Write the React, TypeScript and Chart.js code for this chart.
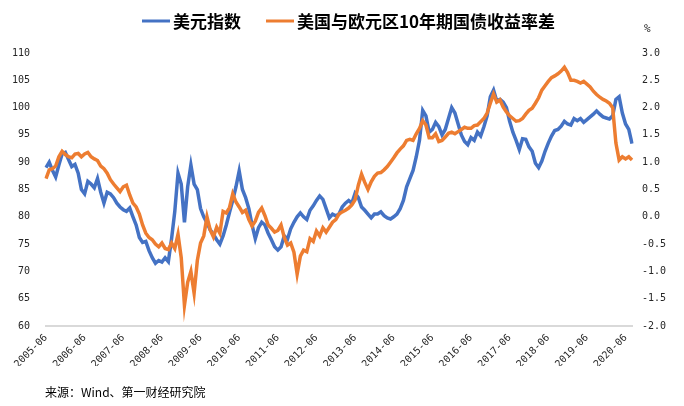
import React, { useEffect, useRef } from "react";
import { Chart, registerables } from "chart.js";

Chart.register(...registerables);

// Monthly categories 2005-06 .. 2020-08
const months: string[] = [];
for (let y = 2005; y <= 2020; y++) {
  for (let mo = 1; mo <= 12; mo++) {
    if ((y === 2005 && mo < 6) || (y === 2020 && mo > 8)) continue;
    months.push(`${y}-${String(mo).padStart(2, "0")}`);
  }
}

const dollarIndex: number[] = [
  89.0, 90.0, 88.5, 87.3, 89.5, 91.5, 91.8, 90.5, 89.2, 89.6,
  88.0, 85.0, 84.2, 86.5, 86.0, 85.3, 87.0, 84.5, 82.5, 84.5,
  84.2, 83.5, 82.5, 81.8, 81.3, 81.0, 81.6, 80.0, 78.5, 76.2,
  75.3, 75.5, 73.8, 72.5, 71.5, 72.0, 71.7, 72.5, 71.8, 76.0,
  81.0, 88.0, 86.0, 79.0, 85.5, 89.5, 86.0, 85.0, 81.5, 80.0,
  78.9, 77.6, 76.8, 75.8, 75.0, 76.5, 78.5, 80.8, 83.0, 85.5,
  88.4, 85.0, 83.5, 81.5, 78.5, 76.0, 78.0, 79.0, 78.5, 77.0,
  75.8, 74.5, 73.9, 74.5, 76.5, 75.9, 77.8, 79.0, 80.0, 80.7,
  80.0, 79.5, 81.2, 82.0, 83.0, 83.8, 83.2, 81.5, 79.8, 80.5,
  80.2, 80.5, 81.8, 82.5, 83.0, 82.5, 84.3, 83.5, 81.8, 81.2,
  80.5, 79.8, 80.5, 80.5, 80.9, 80.2, 79.8, 79.6, 80.0, 80.5,
  81.5, 83.0, 85.5, 87.0, 88.5, 91.0, 94.0, 99.5, 98.5, 95.5,
  96.0, 97.3, 96.5, 95.0, 96.0, 98.0, 100.0, 99.0, 97.0, 95.0,
  93.8, 93.2, 94.5, 94.0, 95.5, 94.8, 96.5, 98.5, 102.0, 103.2,
  101.2, 101.5, 101.0, 100.0, 97.5, 95.5, 94.0, 92.3, 94.3, 94.2,
  92.8, 92.0, 89.8, 89.0, 90.2, 92.0, 93.5, 94.8, 95.8, 96.0,
  96.6, 97.5, 97.0, 96.8, 98.0, 97.6, 98.0, 97.3, 97.8, 98.3,
  98.8, 99.4, 98.8, 98.3, 98.1, 97.9, 98.5, 101.5, 102.0, 99.0,
  97.0, 96.0, 93.4,
];

const yieldSpread: number[] = [
  0.70, 0.86, 0.88, 0.93, 1.10, 1.20, 1.14, 1.10, 1.08, 1.15,
  1.16, 1.10, 1.15, 1.18, 1.10, 1.06, 1.03, 0.93, 0.88, 0.80,
  0.68, 0.60, 0.53, 0.46, 0.55, 0.58, 0.40, 0.25, 0.18, 0.05,
  -0.15, -0.30, -0.38, -0.42, -0.50, -0.55, -0.48, -0.58, -0.60, -0.48,
  -0.58, -0.32, -0.75, -1.62, -1.20, -1.00, -1.40, -0.80, -0.48, -0.35,
  0.00, -0.24, -0.37, -0.19, -0.30, 0.10, 0.07, 0.17, 0.42, 0.27,
  0.18, 0.08, 0.12, -0.05, -0.17, -0.08, 0.08, 0.16, 0.02, -0.15,
  -0.21, -0.28, -0.25, -0.15, -0.38, -0.52, -0.48, -0.65, -1.05, -0.72,
  -0.61, -0.64, -0.40, -0.45, -0.26, -0.35, -0.20, -0.28, -0.19, -0.10,
  -0.05, 0.05, 0.09, 0.12, 0.16, 0.22, 0.31, 0.58, 0.78, 0.63,
  0.50, 0.64, 0.74, 0.80, 0.81, 0.86, 0.92, 1.00, 1.08, 1.17,
  1.24, 1.30, 1.40, 1.42, 1.40, 1.52, 1.62, 1.76, 1.68, 1.45,
  1.45, 1.52, 1.38, 1.40, 1.46, 1.53, 1.55, 1.52, 1.56, 1.60,
  1.64, 1.62, 1.62, 1.67, 1.68, 1.74, 1.80, 1.90, 2.08, 2.25,
  2.10, 2.14, 2.01, 1.92, 1.85, 1.80, 1.75, 1.76, 1.80, 1.88,
  1.95, 1.99, 2.08, 2.18, 2.32, 2.40, 2.48, 2.55, 2.58, 2.62,
  2.67, 2.74, 2.64, 2.50, 2.50, 2.48, 2.45, 2.48, 2.43, 2.38,
  2.30, 2.24, 2.19, 2.15, 2.12, 2.08, 2.00, 1.35, 1.04, 1.10,
  1.06, 1.10, 1.04,
];

const seriesNames = ["美元指数", "美国与欧元区10年期国债收益率差"];
const seriesColors = ["#4472C4", "#ED7D31"];
const leftAxisRange = { min: 60, max: 110, step: 5 };
const rightAxisRange = { min: -2, max: 3, step: 0.5 };
const rightUnit = "%";
const sourceNote = "来源：Wind、第一财经研究院";

const tickFont = { family: "'DejaVu Sans Mono', monospace", size: 10 };
const cjkFont = "'Noto Sans CJK SC', 'Noto Sans', sans-serif";

// legend layout (positions of the legend items in the header)
const legendLayout = { y: 21, lineLen: 28, textGap: 3, starts: [142, 266] };

const overlayPlugin = {
  id: "overlay",
  afterDraw(chart: any) {
    const ctx = chart.ctx as CanvasRenderingContext2D;
    const area = chart.chartArea;
    ctx.save();
    ctx.font = `bold 17px ${cjkFont}`;
    ctx.textBaseline = "middle";
    ctx.textAlign = "left";
    seriesNames.forEach((name, i) => {
      const x = legendLayout.starts[i];
      ctx.strokeStyle = seriesColors[i];
      ctx.lineWidth = 3;
      ctx.beginPath();
      ctx.moveTo(x, legendLayout.y);
      ctx.lineTo(x + legendLayout.lineLen, legendLayout.y);
      ctx.stroke();
      ctx.fillStyle = "#000";
      ctx.fillText(name, x + legendLayout.lineLen + legendLayout.textGap, legendLayout.y + 1);
    });
    const y1 = chart.scales.y1;
    ctx.font = `11px ${tickFont.family}`;
    ctx.fillStyle = "#262626";
    ctx.fillText(rightUnit, y1.left + 12, area.top - 24);
    ctx.font = `12px ${cjkFont}`;
    ctx.fillStyle = "#000";
    ctx.fillText(sourceNote, 45, 392);
    ctx.restore();
  },
};

export default function App() {
  const ref = useRef<HTMLCanvasElement | null>(null);
  useEffect(() => {
    document.body.style.margin = "0";
    if (!ref.current) return;
    const chart = new Chart(ref.current, {
      type: "line",
      data: {
        labels: months,
        datasets: [
          {
            label: seriesNames[0],
            data: dollarIndex,
            borderColor: seriesColors[0],
            backgroundColor: seriesColors[0],
            borderWidth: 3.5,
            pointRadius: 0,
            yAxisID: "y",
            order: 1,
          },
          {
            label: seriesNames[1],
            data: yieldSpread,
            borderColor: seriesColors[1],
            backgroundColor: seriesColors[1],
            borderWidth: 3.5,
            pointRadius: 0,
            yAxisID: "y1",
            order: 0,
          },
        ],
      },
      options: {
        animation: false,
        responsive: true,
        maintainAspectRatio: false,
        layout: { padding: { top: 53, bottom: 40, left: 0, right: 0 } },
        plugins: { legend: { display: false }, tooltip: { enabled: false } },
        scales: {
          x: {
            type: "category",
            grid: { display: false, drawTicks: false },
            border: { display: true, color: "#d9d9d9", width: 2 },
            ticks: {
              autoSkip: false,
              maxRotation: 45,
              minRotation: 45,
              padding: 6,
              font: tickFont,
              color: "#262626",
              callback: (_v: any, i: number) => (months[i].endsWith("-06") ? months[i] : ""),
            },
            afterFit: (s: any) => {
              s.height = 40;
            },
          },
          y: {
            position: "left",
            min: leftAxisRange.min,
            max: leftAxisRange.max,
            grid: { display: false, drawTicks: false },
            border: { display: false },
            ticks: { stepSize: leftAxisRange.step, padding: 16, font: tickFont, color: "#262626" },
            afterFit: (s: any) => {
              s.width = 46;
            },
          },
          y1: {
            position: "right",
            min: rightAxisRange.min,
            max: rightAxisRange.max,
            grid: { display: false, drawTicks: false },
            border: { display: false },
            ticks: {
              stepSize: rightAxisRange.step,
              padding: 10,
              font: tickFont,
              color: "#262626",
              callback: (v: any) => Number(v).toFixed(1),
            },
            afterFit: (s: any) => {
              s.width = 52;
            },
          },
        },
      },
      plugins: [overlayPlugin],
    });
    return () => chart.destroy();
  }, []);
  return (
    <div style={{ width: 684, height: 406, position: "relative" }}>
      <canvas ref={ref} />
    </div>
  );
}
